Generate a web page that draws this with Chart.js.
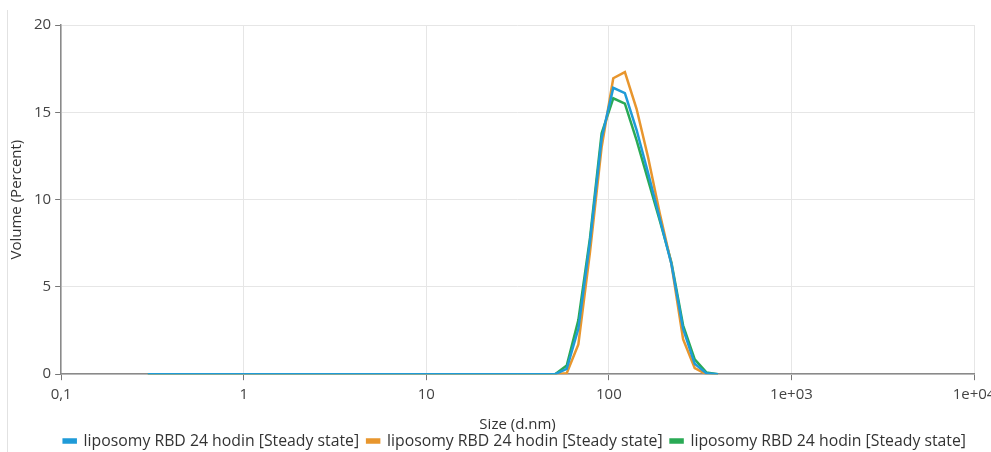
<!DOCTYPE html>
<html>
<head>
<meta charset="utf-8">
<script src="https://cdn.jsdelivr.net/npm/chart.js@4.4.0/dist/chart.umd.min.js"></script>
<style>
  html, body { margin: 0; padding: 0; background: #fff; overflow: hidden; }
  #wrap { position: relative; width: 1010px; height: 459px; }
  #edge { position: absolute; left: 7px; top: 10px; bottom: 0; border-left: 1px solid #e2e2e2; }
</style>
</head>
<body>
<div id="wrap">
  <div id="edge"></div>
  <canvas id="size-chart" width="1010" height="459"></canvas>
</div>
<script>
// size classes (d.nm)
var sizes = [0.2983, 50.75, 58.77, 68.06, 78.82, 91.28, 105.7, 122.4, 141.8, 164.2, 190.1, 220.2, 255, 295.3, 342, 396.1];
// volume (%)
var run1 = [0, 0, 0.3, 2.6, 7.6, 13.5, 16.4, 16.1, 14.0, 11.5, 8.9, 6.3, 2.6, 0.6, 0.05, 0];
var run2 = [0, 0, 0.05, 1.7, 7.0, 13.0, 16.95, 17.3, 15.2, 12.4, 9.2, 6.3, 2.0, 0.35, 0, 0];
var run3 = [0, 0, 0.5, 3.1, 7.8, 13.8, 15.8, 15.5, 13.4, 11.1, 8.8, 6.4, 2.8, 0.85, 0.1, 0];
var seriesNames = ['liposomy RBD 24 hodin [Steady state]', 'liposomy RBD 24 hodin [Steady state]', 'liposomy RBD 24 hodin [Steady state]'];
var xTicks = [0.1, 1, 10, 100, 1000, 10000];
var xTickLabels = ['0,1', '1', '10', '100', '1e+03', '1e+04'];
var yTicks = [0, 5, 10, 15, 20];

function pts(vals) {
  return sizes.map(function (s, i) { return { x: s, y: vals[i] }; });
}

var font = "'Open Sans', 'Noto Sans', sans-serif";

new Chart(document.getElementById('size-chart'), {
  type: 'line',
  data: {
    datasets: [
      { label: seriesNames[0], data: pts(run1), borderColor: '#1f9bd8', backgroundColor: '#1f9bd8' },
      { label: seriesNames[1], data: pts(run2), borderColor: '#e8962e', backgroundColor: '#e8962e' },
      { label: seriesNames[2], data: pts(run3), borderColor: '#2aaa55', backgroundColor: '#2aaa55' }
    ]
  },
  options: {
    responsive: false,
    animation: false,
    datasets: { line: { borderWidth: 2.5, pointRadius: 0, tension: 0, fill: false } },
    layout: { padding: { left: 8, right: 36, top: 25, bottom: 0 } },
    plugins: {
      tooltip: { enabled: false },
      legend: {
        position: 'bottom',
        align: 'end',
        labels: {
          boxWidth: 12, boxHeight: 3, padding: 8,
          color: '#333', font: { family: font, size: 15.8 }
        }
      }
    },
    scales: {
      x: {
        type: 'logarithmic',
        min: 0.1, max: 10000,
        afterBuildTicks: function (axis) {
          axis.ticks = xTicks.map(function (v) { return { value: v }; });
        },
        ticks: {
          autoSkip: false, maxRotation: 0, padding: 6,
          color: '#444', font: { family: font, size: 15 },
          callback: function (v) { return xTickLabels[xTicks.indexOf(v)]; }
        },
        grid: { color: '#e6e6e6', tickColor: '#777', tickLength: 6 },
        border: { color: '#8a8a8a', width: 1.5 },
        title: { display: true, text: 'Size (d.nm)', color: '#333', font: { family: font, size: 15 }, padding: { top: 6, bottom: -9 } }
      },
      y: {
        min: 0, max: 20,
        afterBuildTicks: function (axis) {
          axis.ticks = yTicks.map(function (v) { return { value: v }; });
        },
        ticks: { padding: 4, color: '#444', font: { family: font, size: 15 } },
        grid: { color: '#e6e6e6', tickColor: '#777', tickLength: 6 },
        border: { color: '#8a8a8a', width: 1.5 },
        title: { display: true, text: 'Volume (Percent)', color: '#333', font: { family: font, size: 15 }, padding: { top: 0, bottom: 4 } }
      }
    }
  }
});
</script>
</body>
</html>
